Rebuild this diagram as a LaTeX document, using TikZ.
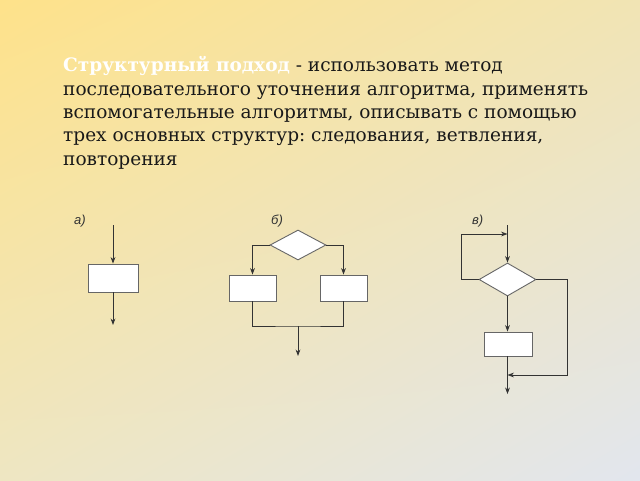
\documentclass[tikz,border=0pt]{standalone}
\usepackage{fontspec}
\setmainfont{DejaVu Serif}
\newfontfamily\labelfont{Liberation Sans}
\usetikzlibrary{shapes.geometric,arrows.meta,shadings}
\definecolor{fonVL}{HTML}{FEE28A}
\definecolor{fonVP}{HTML}{F1E4B4}
\definecolor{fonNL}{HTML}{EEE6C2}
\definecolor{fonNP}{HTML}{E2E6EE}
\definecolor{liniyacvet}{HTML}{333333}
\definecolor{ramka}{HTML}{666666}
\frenchspacing
\begin{document}
\begin{tikzpicture}[x=1pt,y=-1pt,
	blok/.style={draw=ramka,fill=white,line width=0.9pt,minimum width=50pt,minimum height=28pt,inner sep=0pt},
	uslovie/.style={diamond,draw=ramka,fill=white,line width=0.9pt,inner sep=0pt,minimum width=56pt,minimum height=30pt},
	liniya/.style={draw=liniyacvet,line width=0.75pt},
	strelka/.style={liniya,-{Stealth[length=6.5pt,width=4.8pt]}},
	metka/.style={font=\labelfont\itshape\fontsize{13}{15}\selectfont,anchor=base west,inner sep=0pt,text=black!80}]
	
	%Фон
	\useasboundingbox (0,0) rectangle (640,480);
	\shade[upper left=fonVL,upper right=fonVP,lower left=fonNL,lower right=fonNP] (0,0) rectangle (640,480);
	
	%Текст
	\node[anchor=base west,align=left,inner sep=0pt,text=black!90,font=\fontsize{18.5}{23.3}\selectfont] (tekst) at (63,165)
	{\textcolor{white}{\textbf{Структурный подход}} - использовать метод\\
		последовательного уточнения алгоритма, применять\\
		вспомогательные алгоритмы, описывать с помощью\\
		трех основных структур: следования, ветвления,\\
		повторения};
	
	%---------а) следование
	\node[metka] (ma) at (74,224) {а)};
	\coordinate (a0) at (113,225);
	\node[blok] (a1) at (113,278) {};
	\coordinate (a2) at (113,325);
	\draw[strelka] (a0) -- (a1.north);
	\draw[strelka] (a1.south) -- (a2);
	
	%---------б) ветвление
	\node[metka] (mb) at (271,224) {б)};
	\node[uslovie] (b0) at (298,245) {};
	\node[blok,minimum width=47pt,minimum height=26pt] (b1) at (252.5,288) {};
	\node[blok,minimum width=47pt,minimum height=26pt] (b2) at (343.5,288) {};
	\coordinate (b3) at (298,326);
	\coordinate (b4) at (298,356);
	\draw[strelka] (b0.west) -| (b1.north);
	\draw[strelka] (b0.east) -| (b2.north);
	\draw[liniya] (b1.south) |- (b3) -| (b2.south);
	\draw[strelka] (b3) -- (b4);
	
	%---------в) повторение
	\node[metka] (mv) at (472,224) {в)};
	\coordinate (v0) at (507.5,225);
	\node[uslovie,minimum width=57pt,minimum height=33pt] (v1) at (507.5,279.5) {};
	\node[blok,minimum width=48pt,minimum height=24pt] (v2) at (508.5,344) {};
	\coordinate (v3) at (507.5,234);
	\coordinate (v4) at (461,234);
	\coordinate (v5) at (567,375);
	\coordinate (v6) at (507.5,375);
	\coordinate (v7) at (507.5,394);
	\draw[strelka] (v0) -- (v1.north);
	\draw[strelka] (v1.west) -| (v4) -- (v3);
	\draw[strelka] (v1.south) -- (v2.north -| v1.south);
	\draw[strelka] (v1.east) -| (v5) -- (v6);
	\draw[strelka] (v2.south -| v1.south) -- (v7);
	
\end{tikzpicture}
\end{document}
